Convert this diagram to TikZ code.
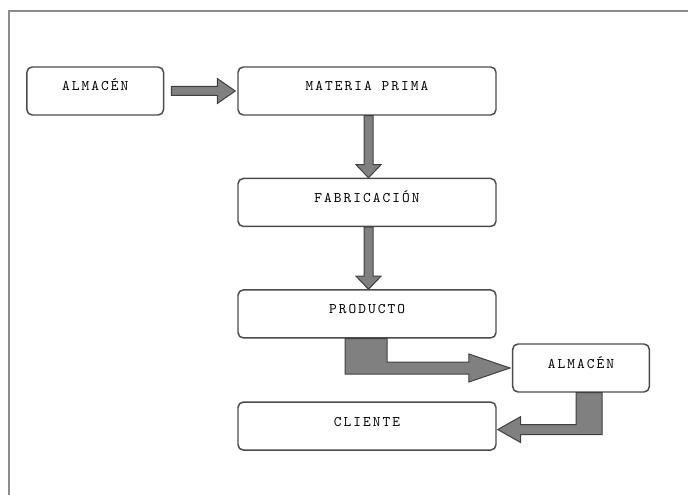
\documentclass[tikz,border=0pt]{standalone}
\usepackage{fontspec}
\setmonofont[LetterSpace=14]{Latin Modern Mono}
\usetikzlibrary{calc,positioning}

\begin{document}
\begin{tikzpicture}[x=0.75pt, y=-0.75pt, node distance = 46.5pt]
        \def\colorbox{black!70}
        \def\colorarrow{black!50}
        \tikzset{stage/.style={draw = \colorbox,
                line width = 1.1pt,
                rounded corners = 4pt,
                fill = white,
                font = \ttfamily\fontsize{11}{13}\selectfont,
                text height = 6.5pt,
                text depth = 6.5pt,
                inner sep = 0pt,
                minimum width = 193.5pt,
                minimum height = 36pt
        }}
        \tikzset{small/.style={minimum width = 102.5pt}}
        \tikzset{blockarrow/.style={fill = \colorarrow,
                draw = black!75,
                line width = 0.75pt,
                line join = miter
        }}

        \useasboundingbox (0,0) rectangle (688,495);
        \draw[black!45, line width = 1.5pt] (9,495) -- (9,11) -- (688,11);

        \node[stage] (materia) at (367,91) {MATERIA PRIMA};
        \node[stage, small, left = 54.75pt of materia] (almacen1) {ALMACÉN};
        \node[stage, below = of materia] (fabricacion) {FABRICACIÓN};
        \node[stage, below = of fabricacion] (producto) {PRODUCTO};
        \node[stage, below = 47pt of producto] (cliente) {CLIENTE};
        \node[stage, small] (almacen2) at (581,368) {ALMACÉN};

        % almacen -> materia prima
        \draw[blockarrow] ($(almacen1.east)+(7,-4.5)$) -- ($(materia.west)+(-20,-4.5)$) -- ++(0,-8)
            -- ($(materia.west)+(-2,0)$) -- ($(materia.west)+(-20,12.5)$) -- ++(0,-8)
            -- ($(almacen1.east)+(7,4.5)$) -- cycle;
        % materia prima -> fabricacion
        \draw[blockarrow] ($(materia.south)+(-3,0)$) -- ($(fabricacion.north)+(-3,-13)$) -- ++(-8,0)
            -- ($(fabricacion.north)+(1.5,0)$) -- ($(fabricacion.north)+(14,-13)$) -- ++(-8,0)
            -- ($(materia.south)+(6,0)$) -- cycle;
        % fabricacion -> producto
        \draw[blockarrow] ($(fabricacion.south)+(-3,0)$) -- ($(producto.north)+(-3,-13)$) -- ++(-8,0)
            -- ($(producto.north)+(1.5,0)$) -- ($(producto.north)+(14,-13)$) -- ++(-8,0)
            -- ($(fabricacion.south)+(6,0)$) -- cycle;
        % producto -> almacen
        \draw[blockarrow] ($(producto.south)+(-22,0)$) -- ($(producto.south)+(20,0)$)
            |- ($(almacen2.west)+(-43,-6)$) -- ($(almacen2.west)+(-43,-14)$)
            -- ($(almacen2.west)+(-2,0)$) -- ($(almacen2.west)+(-43,14)$)
            -- ($(almacen2.west)+(-43,6)$) -| ($(producto.south)+(-22,0)$) -- cycle;
        % almacen -> cliente
        \draw[blockarrow] ($(almacen2.south)+(-5,0)$) -- ($(almacen2.south)+(21,0)$)
            |- ($(cliente.east)+(24,8.5)$) -- ($(cliente.east)+(24,16.5)$)
            -- ($(cliente.east)+(1,3.5)$) -- ($(cliente.east)+(24,-9.5)$)
            -- ($(cliente.east)+(24,-1.5)$) -| ($(almacen2.south)+(-5,0)$) -- cycle;
\end{tikzpicture}
\end{document}
